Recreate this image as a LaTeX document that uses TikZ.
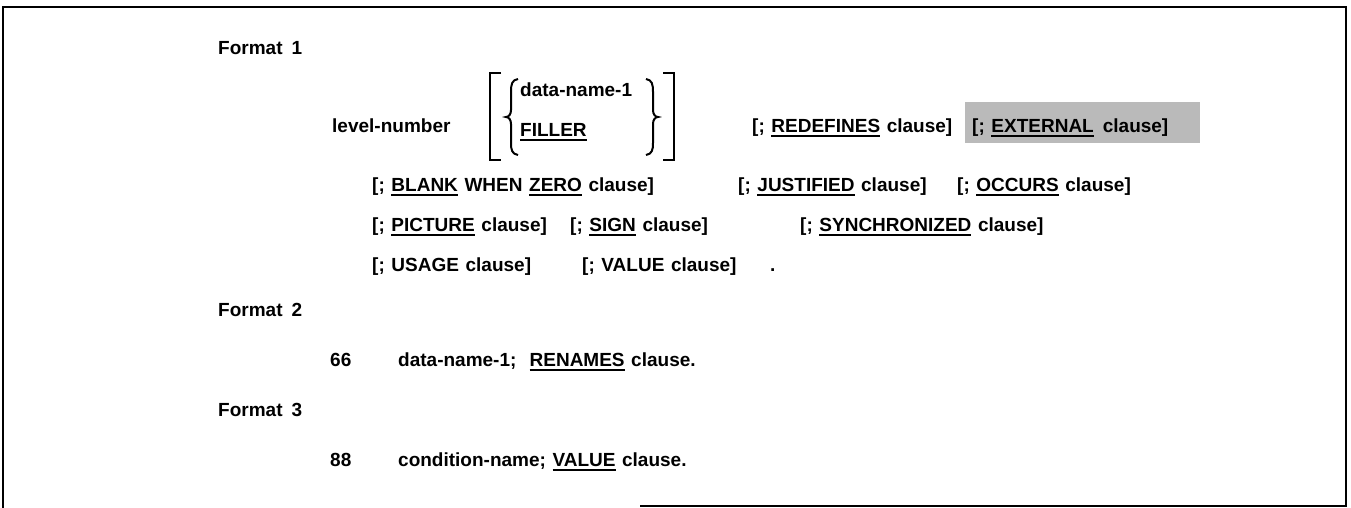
\documentclass[tikz,border=0pt]{standalone}
\usepackage{fontspec}
\setmainfont{Liberation Sans}[WordSpace=1.25]
% underlined keyword: a rule drawn a little below the baseline
\newcommand\kw[1]{\setbox0\hbox{#1}\rlap{\rule[-5pt]{\wd0}{1.7pt}}\box0}
\begin{document}
\begin{tikzpicture}[x=1pt,y=-1pt,
  txt/.style={anchor=base west,inner sep=0pt,font=\fontsize{19}{22}\bfseries\selectfont},
  frame/.style={line width=2.6pt},
  bracketline/.style={line width=2.6pt},
  braceline/.style={line width=2pt},
  shade/.style={fill=black!27,draw=none}]
\useasboundingbox (0,0) rectangle (1351,508);

% outer frame (the bottom rule is drawn only on the right part)
\draw[frame] (3,508) -- (3,7) -- (1346,7) -- (1346,506) -- (640,506);

% ---------------- Format 1 ----------------
\node[txt] (f1) at (218,55) {Format\hspace{9pt}1};
\node[txt] (lvl) at (332,132) {level-number};

% square brackets around the choice
\draw[bracketline] (501,73) -- (490,73) -- (490,160) -- (501,160);
\draw[bracketline] (663,73) -- (674,73) -- (674,160) -- (663,160);
% curly braces
\draw[braceline] (518,79) .. controls (512,80) and (511,84) .. (511,92) -- (511,110)
  .. controls (511,114) and (509,117) .. (506,117)
  .. controls (509,117) and (511,120) .. (511,124) -- (511,143)
  .. controls (511,150) and (512,154) .. (518,155);
\draw[braceline] (646,79) .. controls (652,80) and (653,84) .. (653,92) -- (653,110)
  .. controls (653,114) and (655,117) .. (658,117)
  .. controls (655,117) and (653,120) .. (653,124) -- (653,143)
  .. controls (653,150) and (652,154) .. (646,155);

\node[txt] (dn1) at (520,97) {data-name-1};
\node[txt] (fil) at (520,136) {\kw{FILLER}};

\node[txt] (redef) at (752,132) {[;\ \kw{REDEFINES}\ clause]};
\fill[shade] (965,102) rectangle (1200,143);
\node[txt] (ext) at (972,132) {[;\ \kw{EXTERNAL}\hspace{9pt}clause]};

\node[txt] (blank) at (372,191) {[;\ \kw{BLANK}\ WHEN\ \kw{ZERO}\ clause]};
\node[txt] (just) at (738,191) {[;\ \kw{JUSTIFIED}\ clause]};
\node[txt] (occ) at (957,191) {[;\ \kw{OCCURS}\ clause]};

\node[txt] (pic) at (372,231) {[;\ \kw{PICTURE}\ clause]};
\node[txt] (sign) at (570,231) {[;\ \kw{SIGN}\ clause]};
\node[txt] (sync) at (800,231) {[;\ \kw{SYNCHRONIZED}\ clause]};

\node[txt] (usage) at (372,271) {[;\ USAGE\ clause]};
\node[txt] (val) at (582,271) {[;\ VALUE\ clause]};
\node[txt] (stop) at (770,271) {.};

% ---------------- Format 2 ----------------
\node[txt] (f2) at (218,316) {Format\hspace{9pt}2};
\node[txt] (n66) at (330,366) {66};
\node[txt] (ren) at (398,366) {data-name-1;\ \ \kw{RENAMES}\ clause.};

% ---------------- Format 3 ----------------
\node[txt] (f3) at (218,416) {Format\hspace{9pt}3};
\node[txt] (n88) at (330,466) {88};
\node[txt] (cond) at (398,466) {condition-name;\ \kw{VALUE}\ clause.};
\end{tikzpicture}
\end{document}
